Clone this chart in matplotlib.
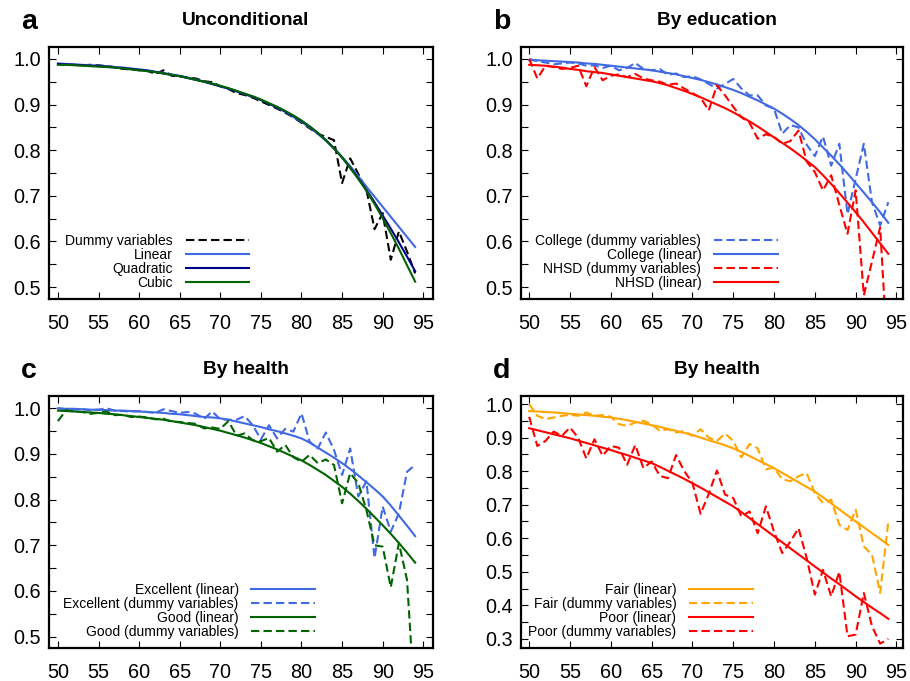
import matplotlib
matplotlib.use("Agg")
import matplotlib.pyplot as plt
from matplotlib.ticker import MultipleLocator, FormatStrFormatter

plt.rcParams["font.family"] = ["Liberation Sans", "DejaVu Sans"]

AGES = list(range(50, 95))

# panel a: unconditional
A_DUMMY = [.988, .988, .987, .986, .987, .986, .984, .982, .978, .977, .975, .974, .967, .975, .963,
           .962, .959, .957, .951, .949, .940, .934, .925, .921, .915, .907, .899, .891, .882, .872,
           .860, .848, .836, .829, .822, .728, .782, .748, .713, .627, .662, .560, .622, .578, .530]
A_LINEAR = [.990, .989, .988, .987, .986, .985, .984, .982, .981, .979, .977, .975, .972, .969, .966,
            .963, .959, .955, .950, .945, .940, .935, .929, .923, .917, .910, .902, .893, .884, .873,
            .862, .850, .836, .821, .804, .785, .765, .743, .720, .698, .676, .654, .632, .610, .588]
A_QUAD = [.989, .988, .987, .986, .985, .984, .983, .981, .980, .978, .976, .974, .971, .968, .965,
          .962, .958, .954, .950, .945, .940, .935, .929, .923, .917, .910, .902, .894, .885, .875,
          .864, .852, .838, .822, .804, .784, .762, .738, .713, .686, .657, .628, .598, .567, .535]
A_CUBIC = [.987, .987, .986, .985, .984, .983, .982, .981, .979, .977, .975, .973, .971, .968, .965,
           .962, .958, .954, .950, .946, .941, .936, .930, .924, .918, .911, .903, .895, .886, .876,
           .865, .852, .838, .822, .804, .784, .761, .737, .711, .682, .651, .618, .584, .548, .512]

# panel b: by education
B_COL_DUM = [1.00, .995, .992, .988, .990, .992, .990, .985, .986, .980, .985, .975, .980, .991, .978,
             .975, .978, .965, .968, .960, .962, .955, .945, .935, .945, .956, .935, .920, .920, .898,
             .891, .836, .855, .850, .812, .787, .830, .766, .814, .660, .737, .814, .686, .635, .686]
B_COL_LIN = [.997, .997, .996, .995, .994, .993, .992, .990, .989, .987, .985, .983, .981, .979, .977,
             .975, .972, .969, .966, .962, .958, .954, .949, .944, .938, .932, .925, .917, .909, .900,
             .891, .880, .868, .855, .840, .824, .806, .788, .769, .749, .728, .707, .686, .664, .641]
B_NH_DUM = [1.00, .957, .985, .982, .978, .980, .985, .940, .982, .953, .963, .966, .960, .967, .957,
            .953, .950, .943, .946, .935, .925, .915, .887, .942, .920, .895, .872, .860, .825, .835,
            .829, .814, .820, .843, .775, .752, .712, .745, .680, .617, .712, .482, .556, .631, .320]
B_NH_LIN = [.987, .986, .985, .983, .981, .978, .976, .973, .971, .969, .966, .963, .960, .957, .954,
            .951, .947, .942, .936, .930, .923, .916, .908, .900, .892, .883, .873, .863, .852, .840,
            .828, .816, .804, .791, .777, .763, .745, .726, .706, .685, .664, .642, .619, .596, .573]

# panel c: by health (excellent / good)
C_EX_LIN = [1.00, .999, .999, .998, .997, .997, .996, .995, .995, .994, .993, .992, .991, .990, .988,
            .987, .985, .983, .981, .980, .978, .975, .971, .967, .963, .959, .954, .950, .945, .940,
            .934, .925, .914, .903, .892, .880, .867, .853, .838, .823, .807, .787, .765, .743, .720]
C_EX_DUM = [1.00, .998, .997, .998, .996, .997, 1.00, .995, .994, .993, .994, .992, .990, .998, .994,
            .990, .992, .988, .977, .993, .976, .975, .975, .983, .963, .932, .963, .934, .955, .949,
            .989, .927, .912, .947, .909, .854, .912, .807, .840, .672, .785, .730, .770, .861, .876]
C_GD_LIN = [.995, .994, .993, .992, .991, .990, .988, .987, .985, .983, .981, .979, .977, .975, .972,
            .969, .966, .963, .959, .955, .951, .946, .941, .936, .930, .924, .917, .910, .902, .894,
            .886, .876, .865, .854, .841, .828, .813, .797, .780, .762, .744, .725, .705, .684, .662]
C_GD_DUM = [.972, .996, .993, .992, .988, .990, .993, .985, .986, .981, .982, .980, .976, .977, .971,
            .970, .968, .966, .956, .958, .955, .972, .940, .945, .930, .928, .935, .905, .920, .893,
            .883, .898, .880, .888, .876, .792, .858, .836, .777, .700, .697, .608, .705, .624, .340]

# panel d: by health (fair / poor)
D_FAIR_LIN = [.979, .978, .976, .975, .973, .971, .969, .967, .965, .962, .960, .956, .952, .947, .942,
              .937, .932, .926, .920, .914, .908, .900, .892, .885, .877, .868, .857, .845, .833, .821,
              .809, .795, .781, .767, .753, .739, .722, .704, .686, .668, .650, .633, .615, .598, .580]
D_FAIR_DUM = [1.00, .965, .955, .960, .965, .968, .965, .975, .965, .967, .962, .940, .935, .945, .950,
              .940, .920, .925, .915, .920, .905, .925, .900, .890, .912, .890, .841, .881, .868, .806,
              .810, .776, .770, .785, .794, .734, .705, .715, .640, .625, .685, .576, .551, .437, .650]
D_POOR_LIN = [.928, .922, .916, .910, .904, .898, .891, .884, .877, .870, .863, .855, .848, .840, .832,
              .824, .813, .801, .789, .777, .764, .751, .737, .723, .709, .695, .678, .660, .642, .624,
              .606, .588, .570, .552, .534, .516, .498, .480, .463, .445, .427, .410, .393, .377, .360]
D_POOR_DUM = [.962, .875, .890, .918, .905, .930, .900, .838, .895, .846, .875, .870, .819, .878, .809,
              .829, .786, .779, .848, .800, .765, .673, .732, .802, .730, .720, .665, .680, .615, .695,
              .620, .556, .590, .630, .541, .432, .506, .427, .500, .308, .313, .437, .338, .286, .300]

BLUE = "#4169e1"
NAVY = "#00008b"
GREEN = "#006400"
RED = "#ff0000"
ORANGE = "#ffa500"
DASH = (0, (4, 2))
LW = 1.5

fig = plt.figure(figsize=(9.1, 6.81), dpi=100)
W, H = 910, 681


def make_ax(left, top, right, bottom):
    return fig.add_axes([left / W, 1 - bottom / H, (right - left) / W, (bottom - top) / H])


def style(ax, xlim, ylim):
    ax.set_xlim(*xlim)
    ax.set_ylim(*ylim)
    ax.xaxis.set_major_locator(MultipleLocator(5))
    ax.yaxis.set_major_locator(MultipleLocator(0.1))
    ax.yaxis.set_minor_locator(MultipleLocator(0.05))
    ax.yaxis.set_major_formatter(FormatStrFormatter("%.1f"))
    ax.tick_params(which="both", direction="in", top=True, right=True, length=5, width=0.8,
                   labelsize=14.3)
    ax.tick_params(axis="y", pad=6)
    ax.tick_params(axis="x", pad=10.5)
    for s in ax.spines.values():
        s.set_linewidth(1.6)


def legend(ax, xr, yb):
    ax.legend(loc="lower right", bbox_to_anchor=(xr, yb), markerfirst=False, frameon=False,
              fontsize=10, labelspacing=0.0, handlelength=4.6, handletextpad=0.9,
              borderpad=0, borderaxespad=0)


ax_a = make_ax(49, 47, 433, 299)
ax_b = make_ax(521, 47, 903, 299)
ax_c = make_ax(49, 396, 433, 648)
ax_d = make_ax(521, 396, 903, 648)

ax_a.plot(AGES, A_DUMMY, color="black", lw=LW, ls=DASH, label="Dummy variables")
ax_a.plot(AGES, A_LINEAR, color=BLUE, lw=LW, label="Linear")
ax_a.plot(AGES, A_QUAD, color=NAVY, lw=LW, label="Quadratic")
ax_a.plot(AGES, A_CUBIC, color=GREEN, lw=LW, label="Cubic")
style(ax_a, (48.9, 96.2), (0.474, 1.026))
legend(ax_a, 0.522, 0.035)

ax_b.plot(AGES, B_COL_DUM, color=BLUE, lw=LW, ls=DASH, label="College (dummy variables)")
ax_b.plot(AGES, B_COL_LIN, color=BLUE, lw=LW, label="College (linear)")
ax_b.plot(AGES, B_NH_DUM, color=RED, lw=LW, ls=DASH, label="NHSD (dummy variables)")
ax_b.plot(AGES, B_NH_LIN, color=RED, lw=LW, label="NHSD (linear)")
style(ax_b, (49.0, 95.8), (0.474, 1.026))
legend(ax_b, 0.672, 0.035)

ax_c.plot(AGES, C_EX_LIN, color=BLUE, lw=LW, label="Excellent (linear)")
ax_c.plot(AGES, C_EX_DUM, color=BLUE, lw=LW, ls=DASH, label="Excellent (dummy variables)")
ax_c.plot(AGES, C_GD_LIN, color=GREEN, lw=LW, label="Good (linear)")
ax_c.plot(AGES, C_GD_DUM, color=GREEN, lw=LW, ls=DASH, label="Good (dummy variables)")
style(ax_c, (48.9, 96.2), (0.475, 1.027))
legend(ax_c, 0.693, 0.035)

ax_d.plot(AGES, D_FAIR_LIN, color=ORANGE, lw=LW, label="Fair (linear)")
ax_d.plot(AGES, D_FAIR_DUM, color=ORANGE, lw=LW, ls=DASH, label="Fair (dummy variables)")
ax_d.plot(AGES, D_POOR_LIN, color=RED, lw=LW, label="Poor (linear)")
ax_d.plot(AGES, D_POOR_DUM, color=RED, lw=LW, ls=DASH, label="Poor (dummy variables)")
style(ax_d, (49.0, 95.8), (0.273, 1.024))
legend(ax_d, 0.607, 0.035)

for ax, title, letter in [(ax_a, "Unconditional", "a"), (ax_b, "By education", "b"),
                          (ax_c, "By health", "c"), (ax_d, "By health", "d")]:
    ax.set_title(title, fontsize=13.8, fontweight="bold", x=0.513, pad=16)
    bb = ax.get_position()
    fig.text(bb.x0 - 28 / W, bb.y1 + 12 / H, letter, fontsize=20.5, fontweight="bold",
             ha="left", va="bottom")

fig.savefig("out.png", dpi=100)
